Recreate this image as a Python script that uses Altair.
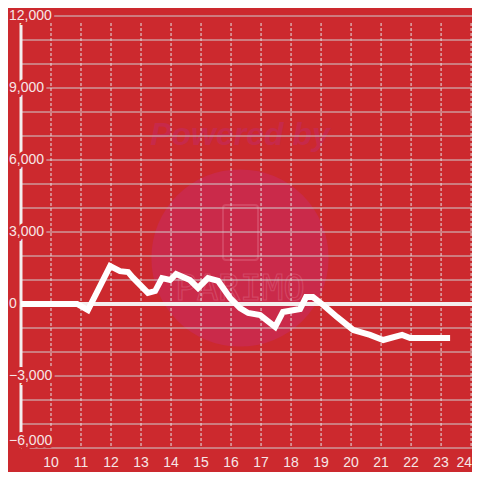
import altair as alt
import pandas as pd

# ---- data ----
hours = [9.0, 10.87, 11.23, 11.97, 12.3, 12.57, 12.73, 13.23, 13.47, 13.7, 13.97,
         14.17, 14.63, 14.9, 15.23, 15.57, 15.97, 16.3, 16.57, 16.97, 17.47, 17.73,
         18.3, 18.5, 18.73, 19.07, 19.53, 20.07, 20.4, 20.63, 21.07, 21.7, 21.97, 23.3]
values = [0, 0, -250, 1580, 1370, 1330, 1100, 460, 540, 1080, 1000,
          1250, 1000, 670, 1080, 960, 250, -170, -375, -460, -950, -330,
          -210, 290, 290, -40, -540, -1080, -1200, -1290, -1500, -1290, -1420, -1420]
x_ticks = list(range(10, 25))
y_grid = list(range(-6000, 12001, 1000))
y_labels = [12000, 9000, 6000, 3000, 0, -3000, -6000]
start_hour = [9]
zero_level = [0]

BG = "#cc292e"
LABEL = "#f7e6e6"
FONT = "Liberation Sans"

xs = alt.Scale(domain=[9, 24.03], nice=False, zero=False)
ys = alt.Scale(domain=[-6000, 12000], nice=False, zero=False)

line_df = pd.DataFrame({"h": hours, "v": values})
grid_h = pd.DataFrame({"v": y_grid})
grid_v = pd.DataFrame({"h": x_ticks})
lab_df = pd.DataFrame({"v": y_labels})
bar_df = pd.DataFrame({"h": start_hour, "top": [y_grid[-1]], "bot": [y_grid[0]]})
zero_df = pd.DataFrame({"v": zero_level})
one = pd.DataFrame({"a": [0]})

# watermark
circle = alt.Chart(one).mark_circle(size=31416, color="#ca2a4a", opacity=1).encode(
    x=alt.value(219), y=alt.value(242))
powered = alt.Chart(one).mark_text(
    text="Powered by", font=FONT, fontSize=32, fontWeight="bold", fontStyle="italic",
    color="#c7294a", align="center", baseline="middle").encode(x=alt.value(219), y=alt.value(119))
parimo = alt.Chart(one).mark_text(
    text="PARIMO", font="DejaVu Sans Mono", fontSize=36, fill=None, stroke="#e0708a",
    strokeWidth=1.2, strokeOpacity=0.4, align="center", baseline="middle").encode(
    x=alt.value(219), y=alt.value(273))
phone = alt.Chart(one).mark_rect(
    fill=None, stroke="#e0708a", strokeWidth=2, strokeOpacity=0.4, cornerRadius=3).encode(
    x=alt.value(202), x2=alt.value(237), y=alt.value(189), y2=alt.value(244))

# grid
hgrid = alt.Chart(grid_h).mark_rule(color="#cfcfcf", strokeWidth=1).encode(
    y=alt.Y("v:Q", scale=ys, axis=None))
vgrid = alt.Chart(grid_v).mark_rule(color="#e4e4e4", strokeWidth=1, strokeDash=[3, 2]).encode(
    x=alt.X("h:Q", scale=xs, axis=None),
    y=alt.value(7), y2=alt.value(432))

zero = alt.Chart(zero_df).mark_rule(color="#f4eeee", strokeWidth=4).encode(
    y=alt.Y("v:Q", scale=ys, axis=None))
ybar = alt.Chart(bar_df).mark_rule(color="#f4eeee", strokeWidth=3).encode(
    x=alt.X("h:Q", scale=xs, axis=None),
    y=alt.Y("top:Q", scale=ys, axis=None), y2="bot:Q")

line = alt.Chart(line_df).mark_line(
    color="#ffffff", strokeWidth=6, strokeCap="butt", strokeJoin="miter").encode(
    x=alt.X("h:Q", scale=xs, axis=None), y=alt.Y("v:Q", scale=ys, axis=None))

# x labels
xlab = alt.Chart(grid_v).transform_filter("datum.h < 24").mark_text(
    font=FONT, fontSize=14, color=LABEL, align="center", baseline="middle").encode(
    x=alt.X("h:Q", scale=xs, axis=None), y=alt.value(447), text="h:Q")
xlab_last = alt.Chart(grid_v).transform_filter("datum.h == 24").mark_text(
    font=FONT, fontSize=14, color=LABEL, align="right", baseline="middle", dx=1).encode(
    x=alt.X("h:Q", scale=xs, axis=None), y=alt.value(447), text="h:Q")

def ylab(filter_expr, baseline, mask):
    kw = dict(font=FONT, fontSize=14, align="left", baseline=baseline)
    if mask:
        kw.update(fill=BG, stroke=BG, strokeWidth=6)
    else:
        kw.update(color=LABEL)
    return alt.Chart(lab_df).transform_filter(filter_expr).mark_text(**kw).encode(
        x=alt.value(-12), y=alt.Y("v:Q", scale=ys, axis=None),
        text=alt.Text("v:Q", format=","))

labels = [
    ylab("datum.v > -6000", "middle", True),
    ylab("datum.v == -6000", "bottom", True),
    ylab("datum.v > -6000", "middle", False),
    ylab("datum.v == -6000", "bottom", False),
]

chart = alt.layer(circle, powered, parimo, phone, hgrid, vgrid, zero, ybar, line,
                  xlab, xlab_last, *labels).properties(
    width=451, height=432,
    autosize=alt.AutoSizeParams(type="none"),
    padding={"left": 13, "top": 8, "right": 0, "bottom": 24},
    background=BG,
).configure_view(stroke=None)

chart.save("out.html", embed_options={"renderer": "svg", "actions": False})
